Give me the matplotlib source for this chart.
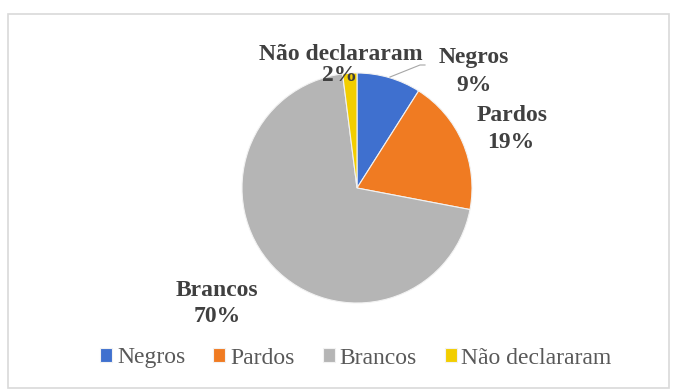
import matplotlib
matplotlib.use("Agg")
import matplotlib.pyplot as plt
from matplotlib.patches import Rectangle
from matplotlib.font_manager import FontProperties

categories = ["Negros", "Pardos", "Brancos", "Não declararam"]
values = [9, 19, 70, 2]
pct_labels = ["9%", "19%", "70%", "2%"]
colors = ["#3F70CF", "#F07B22", "#B5B5B5", "#F2CE00"]

W, H = 678, 389
fig = plt.figure(figsize=(W / 100, H / 100), dpi=100)
fig.patch.set_facecolor("white")

# pie centre (pixels) and radius
cx, cy, R = 357, 188, 115
ax = fig.add_axes([0, 0, 1, 1])
ax.axis("off")

wedges, _ = ax.pie(values, colors=colors, startangle=90, counterclock=False,
                   radius=1.0, center=(0, 0),
                   wedgeprops=dict(edgecolor="#F2F2F2", linewidth=0.8))
ax.set_xlim(-cx / R, (W - cx) / R)
ax.set_ylim((cy - H) / R, cy / R)

def P(px, py):
    return ((px - cx) / R, (cy - py) / R)

serif = ["Liberation Serif", "DejaVu Serif"]
lab_kw = dict(fontsize=17, fontweight="bold", color="#404040",
              family=serif, ha="center", va="center")

# label positions in pixels (name line, percentage line)
label_pos = {
    "Negros": ((474, 57), (474, 85)),
    "Pardos": ((512, 115), (511, 142)),
    "Brancos": ((217, 290), (217, 317)),
    "Não declararam": ((341, 54), (340, 75)),
}
for cat, pct in zip(categories, pct_labels):
    (nx, ny), (px_, py_) = label_pos[cat]
    ax.text(*P(nx, ny), cat, **lab_kw)
    ax.text(*P(px_, py_), pct, **lab_kw)

# leader line for Negros
x0, y0 = P(390, 77)
x1, y1 = P(420, 65)
x2, y2 = P(425, 65)
ax.plot([x0, x1, x2], [y0, y1, y2], color="#A6A6A6", lw=0.8)

leg_font = FontProperties(family=serif, size=17)
leg = fig.legend(wedges, categories, loc="center", bbox_to_anchor=(356 / W, 1 - 358 / H),
                 ncol=4, frameon=False, handlelength=0.5, handleheight=0.5,
                 handletextpad=0.2, columnspacing=1.2, prop=leg_font)
for t in leg.get_texts():
    t.set_color("#595959")

fig.add_artist(Rectangle((8 / W, 1 / H), 661 / W, 374 / H, transform=fig.transFigure,
                         fill=False, edgecolor="#D9D9D9", lw=1.2))

fig.savefig("out.png", dpi=100)
